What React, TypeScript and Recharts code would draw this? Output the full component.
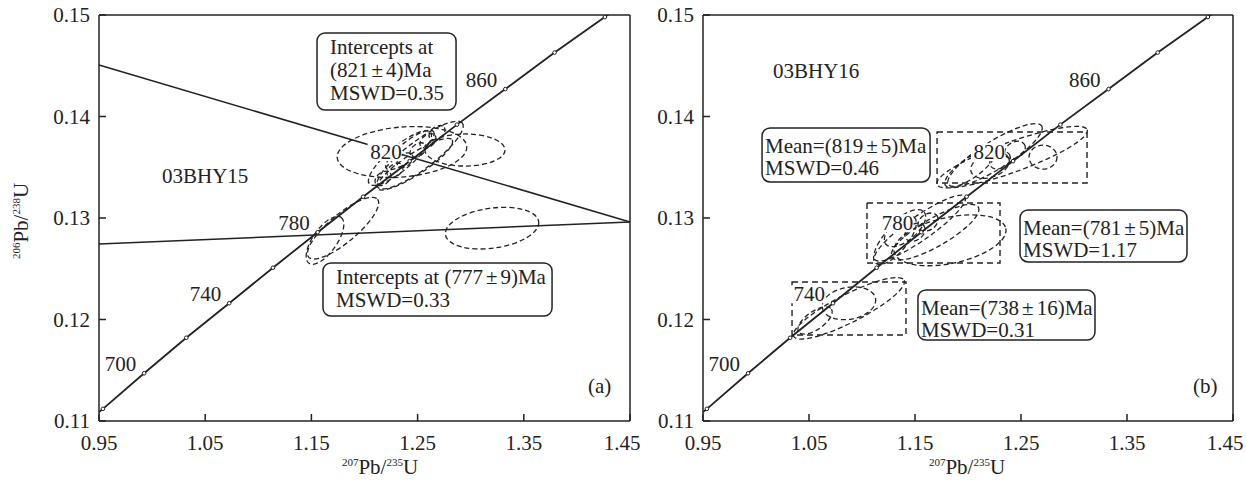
import React from 'react'
import { ScatterChart, Scatter, XAxis, YAxis, ReferenceLine, ReferenceArea, ReferenceDot } from 'recharts'

const FONT = '"Liberation Serif", "Times New Roman", serif'
const INK = '#222'
const FS = 21

const xTicks = [0.95, 1.05, 1.15, 1.25, 1.35, 1.45]
const yTicks = [0.11, 0.12, 0.13, 0.14, 0.15]

// concordia, one point every 20 Ma (207Pb/235U, 206Pb/238U)
const concordia = [
  { age: 660, x: 0.9155, y: 0.1078 },
  { age: 680, x: 0.9537, y: 0.1112 },
  { age: 700, x: 0.9925, y: 0.1147 },
  { age: 720, x: 1.0322, y: 0.1182 },
  { age: 740, x: 1.0726, y: 0.1216 },
  { age: 760, x: 1.1138, y: 0.1251 },
  { age: 780, x: 1.1559, y: 0.1286 },
  { age: 800, x: 1.1987, y: 0.1321 },
  { age: 820, x: 1.2425, y: 0.1356 },
  { age: 840, x: 1.2871, y: 0.1392 },
  { age: 860, x: 1.3326, y: 0.1427 },
  { age: 880, x: 1.3790, y: 0.1463 },
  { age: 900, x: 1.4263, y: 0.1498 },
  { age: 920, x: 1.4746, y: 0.1534 },
]
const labelledAges = [700, 740, 780, 820, 860]

// error ellipses: centre, semi axes (in 207Pb/235U units), tilt in degrees
const ellipsesA = [
  { x: 1.2353, y: 0.1365, a: 0.0612, b: 0.0235, rot: -5 },
  { x: 1.2946, y: 0.1367, a: 0.0377, b: 0.0151, rot: 0 },
  { x: 1.2523, y: 0.1362, a: 0.05, b: 0.0132, rot: -37 },
  { x: 1.2334, y: 0.1359, a: 0.0377, b: 0.0113, rot: -40 },
  { x: 1.2428, y: 0.1367, a: 0.0282, b: 0.0085, rot: -38 },
  { x: 1.2474, y: 0.1353, a: 0.0420, b: 0.0100, rot: -33 },
  { x: 1.2174, y: 0.1339, a: 0.0085, b: 0.0056, rot: -37 },
  { x: 1.2287, y: 0.1347, a: 0.0085, b: 0.0056, rot: -37 },
  { x: 1.2381, y: 0.1357, a: 0.0085, b: 0.0056, rot: -37 },
  { x: 1.2504, y: 0.1367, a: 0.0085, b: 0.0056, rot: -37 },
  { x: 1.2598, y: 0.1376, a: 0.0085, b: 0.0056, rot: -37 },
  { x: 1.2683, y: 0.1384, a: 0.0085, b: 0.0056, rot: -37 },
  { x: 1.1798, y: 0.129, a: 0.0424, b: 0.0132, rot: -40 },
  { x: 1.1628, y: 0.1278, a: 0.0264, b: 0.0113, rot: -55 },
  { x: 1.3201, y: 0.129, a: 0.0443, b: 0.0188, rot: -8 },
]

const ellipsesB = [
  { x: 1.2415, y: 0.136, a: 0.0755, b: 0.0142, rot: -20 },
  { x: 1.2255, y: 0.1362, a: 0.0519, b: 0.0132, rot: -32 },
  { x: 1.2708, y: 0.136, a: 0.0132, b: 0.0113, rot: 0 },
  { x: 1.2208, y: 0.1352, a: 0.0189, b: 0.0113, rot: -20 },
  { x: 1.2019, y: 0.1349, a: 0.0283, b: 0.0094, rot: -35 },
  { x: 1.2302, y: 0.1357, a: 0.0104, b: 0.0075, rot: -30 },
  { x: 1.2443, y: 0.1367, a: 0.0104, b: 0.0075, rot: -30 },
  { x: 1.183, y: 0.1278, a: 0.0538, b: 0.0217, rot: -12 },
  { x: 1.1547, y: 0.129, a: 0.0519, b: 0.0113, rot: -35 },
  { x: 1.1689, y: 0.1286, a: 0.0472, b: 0.0132, rot: -30 },
  { x: 1.1406, y: 0.129, a: 0.0236, b: 0.0113, rot: -40 },
  { x: 1.1311, y: 0.1278, a: 0.0283, b: 0.0113, rot: -50 },
  { x: 1.15, y: 0.1286, a: 0.0104, b: 0.0075, rot: -35 },
  { x: 1.1623, y: 0.1296, a: 0.0104, b: 0.0075, rot: -35 },
  { x: 1.0877, y: 0.1211, a: 0.0585, b: 0.0132, rot: -27 },
  { x: 1.0877, y: 0.1216, a: 0.0255, b: 0.0151, rot: -10 },
  { x: 1.0557, y: 0.1199, a: 0.0189, b: 0.0085, rot: -35 },
]

// two discordia lines of panel (a)
const discordiaA = [
  [{ x: 0.95, y: 0.14507 }, { x: 1.45, y: 0.12961 }],
  [{ x: 0.95, y: 0.12744 }, { x: 1.45, y: 0.12961 }],
]

// dashed mean-age windows of panel (b)
const windowsB = [
  { x1: 1.1708, x2: 1.3123, y1: 0.13345, y2: 0.13847 },
  { x1: 1.1047, x2: 1.2302, y1: 0.12557, y2: 0.13148 },
  { x1: 1.034, x2: 1.1415, y1: 0.11847, y2: 0.1237 },
]

const notesA = [
  { x1: 1.1553, x2: 1.2862, y1: 0.14064, y2: 0.14823, lines: ['Intercepts at', '(821±4)Ma', 'MSWD=0.35'] },
  { x1: 1.1609, x2: 1.3766, y1: 0.12034, y2: 0.12557, lines: ['Intercepts at (777±9)Ma', 'MSWD=0.33'] },
]
const notesB = [
  { x1: 1.0057, x2: 1.1642, y1: 0.13355, y2: 0.13887, lines: ['Mean=(819±5)Ma', 'MSWD=0.46'] },
  { x1: 1.2491, x2: 1.4066, y1: 0.12567, y2: 0.13079, lines: ['Mean=(781±5)Ma', 'MSWD=1.17'] },
  { x1: 1.1528, x2: 1.3198, y1: 0.11798, y2: 0.12291, lines: ['Mean=(738±16)Ma', 'MSWD=0.31'] },
]

function pm(s: string) {
  const [a, b] = s.split('±')
  if (b === undefined) return s
  return (
    <>
      {a}
      <tspan dx={3}>±</tspan>
      <tspan dx={3}>{b}</tspan>
    </>
  )
}

const ellipseShape = (pxPerUnit: number) => (p: any) => {
  const d = p.payload ?? p
  return (
    <ellipse cx={p.cx} cy={p.cy} rx={d.a * pxPerUnit} ry={d.b * pxPerUnit}
      transform={`rotate(${d.rot} ${p.cx} ${p.cy})`}
      fill="none" stroke={INK} strokeWidth={1.3} strokeDasharray="5 3" />
  )
}

const tickMark = (p: any) => <circle cx={p.cx} cy={p.cy} r={1.8} fill="#fff" stroke={INK} strokeWidth={1} />

const ageLabel = (p: any) => {
  const d = p.payload ?? p
  return (
    <g>
      <rect x={p.cx - 42} y={p.cy - 18} width={34} height={18} fill="#fff" />
      <text x={p.cx - 8} y={p.cy - 2} textAnchor="end" fontFamily={FONT} fontSize={FS} fill={INK}>{d.age}</text>
    </g>
  )
}

const noteShape = (lines: string[], padX: number, first: number, step: number) => (p: any) => (
  <g>
    <rect x={p.x} y={p.y} width={p.width} height={p.height} rx={8} fill="#fff" stroke={INK} strokeWidth={1.5} />
    {lines.map((l, i) => (
      <text key={i} x={p.x + padX} y={p.y + first + i * step} fontFamily={FONT} fontSize={FS} fill={INK}>{pm(l)}</text>
    ))}
  </g>
)

const textShape = (t: string) => (p: any) => (
  <text x={p.cx} y={p.cy} fontFamily={FONT} fontSize={FS} fill={INK}>{t}</text>
)

// x tick: the last label is pulled in a little so it stays on the page
const XTick = (p: any) => {
  const v = p.payload.value as number
  const dx = v >= 1.449 ? -8 : 0
  return (
    <text x={p.x + dx} y={p.y} dy="0.71em" textAnchor="middle" fontFamily={FONT} fontSize={FS} fill={INK}>
      {v.toFixed(2)}
    </text>
  )
}

type Note = { x1: number; x2: number; y1: number; y2: number; lines: string[] }

function Panel(props: {
  left: number; width: number; right: number; ellipses: any[]; discordia?: any[]; windows?: any[]
  notes: Note[]; padX: number; first: number; step: number
  sample: { x: number; y: number; text: string }; tag: { x: number; y: number; text: string }
}) {
  const { left, width, right, ellipses, discordia = [], windows = [], notes, sample, tag } = props
  const plotW = width - 39 - 60 - right
  const pxPerUnit = plotW / 0.5
  const tickStyle = { fill: INK, fontSize: FS, fontFamily: FONT }
  return (
    <div style={{ position: 'absolute', left, top: 0, width, height: 480 }}>
      <ScatterChart width={width} height={480} margin={{ top: 15, right, bottom: 29, left: 39 }}>
        <XAxis type="number" dataKey="x" domain={[0.95, 1.45]} ticks={xTicks} allowDataOverflow interval={0}
          height={30} tickSize={-7} tickMargin={21} stroke={INK} strokeWidth={1.5} tick={<XTick />} />
        <YAxis type="number" dataKey="y" domain={[0.11, 0.15]} ticks={yTicks} allowDataOverflow interval={0}
          width={60} tickSize={-7} tickMargin={16} stroke={INK} strokeWidth={1.5} tick={tickStyle}
          tickFormatter={(v: number) => v.toFixed(2)} />
        <ReferenceLine y={0.15} stroke={INK} strokeWidth={1.5} />
        <ReferenceLine x={1.45} stroke={INK} strokeWidth={1.5} />
        {windows.map((w, i) => (
          <ReferenceArea key={'w' + i} x1={w.x1} x2={w.x2} y1={w.y1} y2={w.y2}
            fill="none" stroke={INK} strokeWidth={1.4} strokeDasharray="6 4" />
        ))}
        {discordia.map((seg, i) => (
          <ReferenceLine key={'d' + i} segment={seg} stroke={INK} strokeWidth={1.5} />
        ))}
        <Scatter data={ellipses} shape={ellipseShape(pxPerUnit)} isAnimationActive={false} />
        <Scatter data={concordia} line={{ stroke: INK, strokeWidth: 1.8 }} shape={tickMark} isAnimationActive={false} />
        <Scatter data={concordia.filter(c => labelledAges.includes(c.age))} shape={ageLabel} isAnimationActive={false} />
        {notes.map((n, i) => (
          <ReferenceArea key={'n' + i} x1={n.x1} x2={n.x2} y1={n.y1} y2={n.y2}
            shape={noteShape(n.lines, props.padX, props.first, props.step)} />
        ))}
        <ReferenceDot x={sample.x} y={sample.y} r={0} shape={textShape(sample.text)} />
        <ReferenceDot x={tag.x} y={tag.y} r={0} shape={textShape(tag.text)} />
      </ScatterChart>
    </div>
  )
}

function AxisTitle({ x, y, a, b, rotate }: { x: number; y: number; a: string; b: string; rotate?: boolean }) {
  return (
    <text x={x} y={y} textAnchor="middle" fontFamily={FONT} fill={INK}
      transform={rotate ? `rotate(-90 ${x} ${y})` : undefined}>
      <tspan fontSize={11} dy={-8}>{a}</tspan>
      <tspan fontSize={FS} dy={8}>Pb/</tspan>
      <tspan fontSize={11} dy={-8}>{b}</tspan>
      <tspan fontSize={FS} dy={8}>U</tspan>
    </text>
  )
}

export default function App() {
  return (
    <div style={{ position: 'absolute', left: 0, top: 0, width: 1246, height: 480, background: '#fff' }}>
      <Panel left={0} width={660} right={30} ellipses={ellipsesA} discordia={discordiaA} notes={notesA}
        padX={13} first={21} step={23}
        sample={{ x: 1.0093, y: 0.13345, text: '03BHY15' }} tag={{ x: 1.4104, y: 0.11276, text: '(a)' }} />
      <Panel left={604} width={642} right={13} ellipses={ellipsesB} windows={windowsB} notes={notesB}
        padX={3} first={25} step={22}
        sample={{ x: 1.016, y: 0.14379, text: '03BHY16' }} tag={{ x: 1.4123, y: 0.11276, text: '(b)' }} />
      <svg width={1246} height={480} style={{ position: 'absolute', left: 0, top: 0, pointerEvents: 'none' }}>
        <AxisTitle x={28} y={221} a="206" b="238" rotate />
        <AxisTitle x={380} y={474} a="207" b="235" />
        <AxisTitle x={967} y={474} a="207" b="235" />
      </svg>
    </div>
  )
}
